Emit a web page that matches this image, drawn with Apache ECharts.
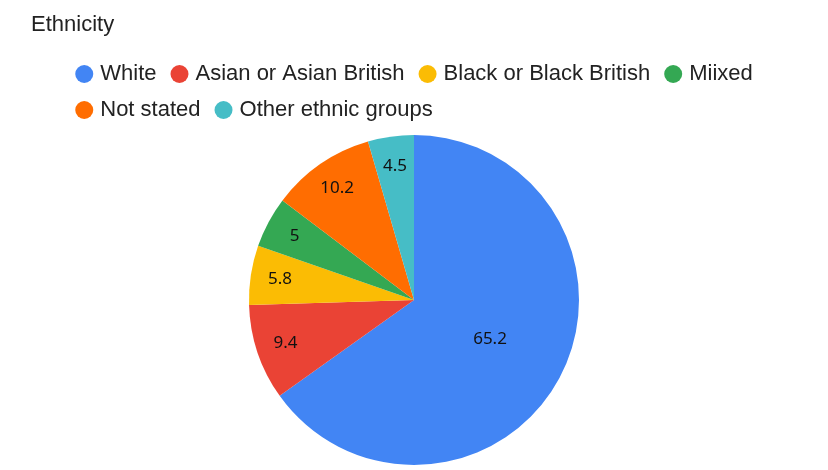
<!DOCTYPE html>
<html><head><meta charset="utf-8">
<script src="https://cdn.jsdelivr.net/npm/echarts@6/dist/echarts.min.js"></script>
<style>html,body{margin:0;padding:0;background:#fff}#c{width:828px;height:470px}</style>
</head><body><div id="c"></div>
<script>
const categories = ['White','Asian or Asian British','Black or Black British','Miixed','Not stated','Other ethnic groups'];
const values = [65.2, 9.4, 5.8, 5, 10.2, 4.5];
const colors = ['#4285F4','#EA4335','#FBBC04','#34A853','#FF6D01','#46BDC6'];
const data = categories.map((n,i)=>({name:n,value:values[i]}));
const chart = echarts.init(document.getElementById('c'));
chart.setOption({
  color: colors,
  title:{text:'Ethnicity',left:26,top:9,textStyle:{fontFamily:'Liberation Sans',fontSize:22,fontWeight:'normal',color:'#222'}},
  legend:{data:categories,top:58,left:'center',width:700,icon:'circle',itemWidth:18,itemHeight:18,itemGap:14,
    textStyle:{fontFamily:'Liberation Sans',fontSize:22,color:'#222',padding:[0,0,0,2]}},
  series:[
    {type:'pie',center:[414,300],radius:[0,165],startAngle:90,clockwise:true,
     label:{show:true,position:'inside',fontSize:17,fontFamily:'Noto Sans',color:'#111',
       formatter:p=>p.dataIndex===0?p.value:''},
     labelLine:{show:false},emphasis:{disabled:true},data:data},
    {type:'pie',center:[414,300],radius:[100,165],startAngle:90,clockwise:true,silent:true,
     itemStyle:{color:'transparent'},legendHoverLink:false,
     label:{show:true,position:'inside',fontSize:17,fontFamily:'Noto Sans',color:'#111',
       formatter:p=>p.dataIndex===0?'':p.value},
     labelLine:{show:false},emphasis:{disabled:true},
     data:categories.map((n,i)=>({name:n+' ',value:values[i]}))}
  ]
});
</script></body></html>
